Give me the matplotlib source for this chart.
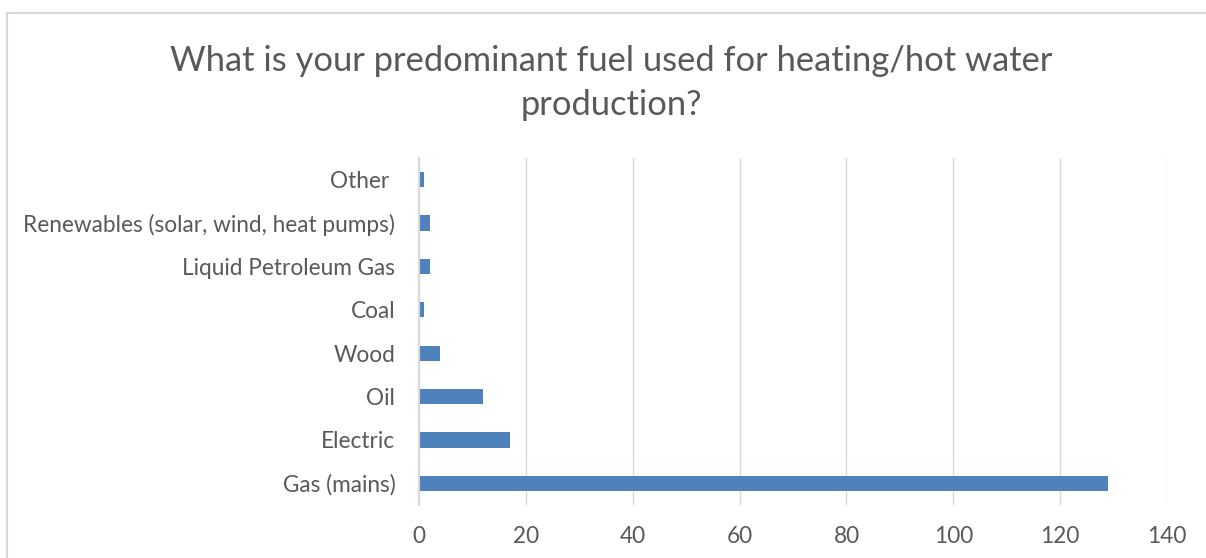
import matplotlib.pyplot as plt
from matplotlib.patches import Rectangle

categories = ['Gas (mains)', 'Electric', 'Oil', 'Wood', 'Coal',
              'Liquid Petroleum Gas', 'Renewables (solar, wind, heat pumps)', 'Other ']
counts = [129, 17, 12, 4, 1, 2, 2, 1]
x_ticks = [0, 20, 40, 60, 80, 100, 120, 140]

plt.rcParams['font.family'] = ['Lato', 'DejaVu Sans']
text_col = '#595959'
grid_col = '#D9D9D9'

fig = plt.figure(figsize=(12.06, 5.58), dpi=100)
fig.patches.append(Rectangle((7 / 1206, -0.1), 1.2, 1 - 13 / 558 + 0.1,
                             transform=fig.transFigure, fill=False,
                             edgecolor='#D9D9D9', linewidth=1.5))

ax = fig.add_axes([0.3474, 0.095, 0.6203, 0.6218])
ax.barh(range(len(categories)), counts, height=0.35, color='#4F81BD')
ax.set_ylim(-0.5, len(categories) - 0.5)
ax.set_xlim(0, 140)
ax.set_xticks(x_ticks)
ax.set_yticks(range(len(categories)))
ax.set_yticklabels(categories)

ax.grid(axis='x', color=grid_col, linewidth=1)
ax.set_axisbelow(True)
for side in ['top', 'right', 'bottom']:
    ax.spines[side].set_visible(False)
ax.spines['left'].set_color(grid_col)
ax.spines['left'].set_linewidth(1.5)
ax.tick_params(axis='both', length=0, labelsize=16.3, colors=text_col)
ax.tick_params(axis='x', pad=15)
ax.tick_params(axis='y', pad=17)

fig.text(0.507, 0.851, 'What is your predominant fuel used for heating/hot water\nproduction?',
         ha='center', va='center', fontsize=24.8, color=text_col, linespacing=1.45)

fig.savefig('out.png', dpi=100)
